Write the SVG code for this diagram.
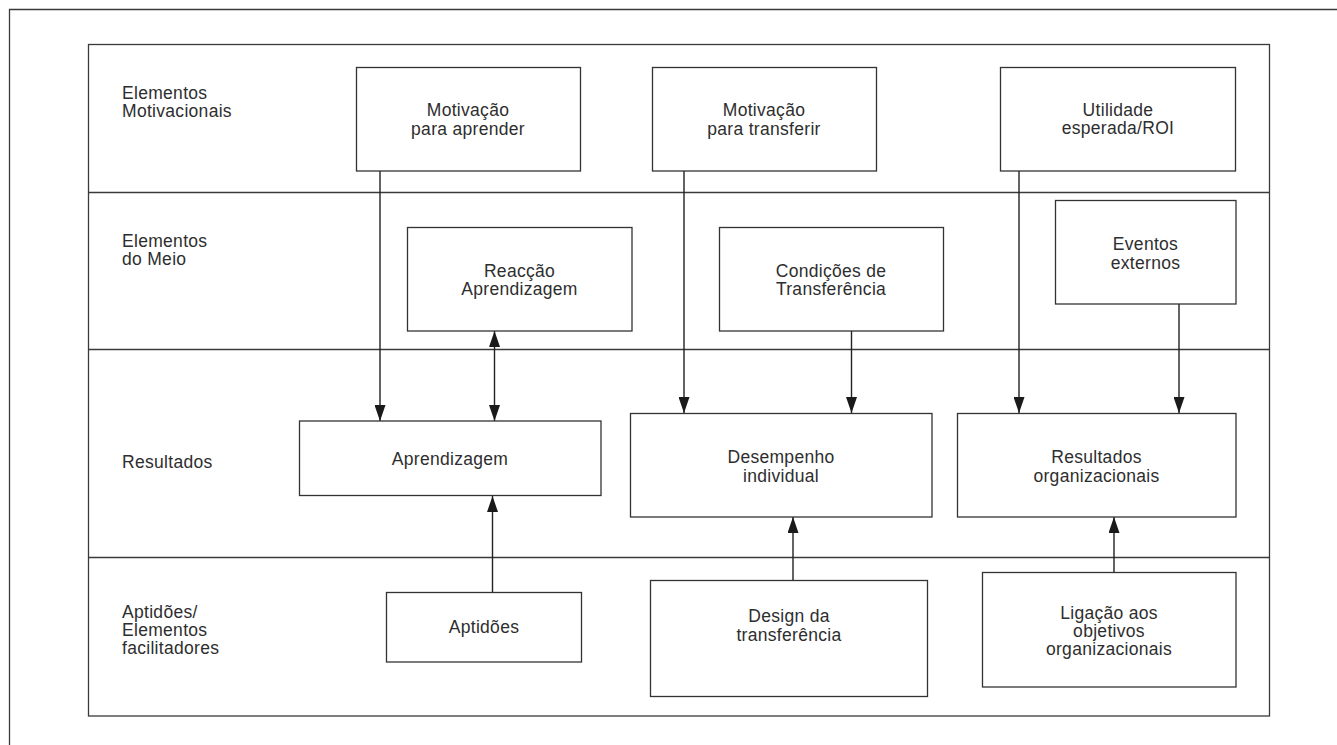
<svg xmlns="http://www.w3.org/2000/svg" width="1337" height="745" viewBox="0 0 1337 745">
<style>
.frame{fill:none;stroke:#3a3a3a;stroke-width:1.3}
.box{fill:#fff;stroke:#333;stroke-width:1.3}
.t{font-family:"Liberation Sans",Arial,sans-serif;font-size:17.5px;letter-spacing:0.3px;fill:#2e2e2e}
.c{text-anchor:middle}
.con{fill:none;stroke:#222;stroke-width:1.4}
</style>
<defs>
<marker id="a" viewBox="0 0 16 11" refX="16" refY="5.5" markerWidth="16" markerHeight="11" markerUnits="userSpaceOnUse" orient="auto-start-reverse">
<path d="M0 0 L16 5.5 L0 11 Z" fill="#1a1a1a"/>
</marker>
</defs>
<rect width="1337" height="745" fill="#fff"/>
<g id="frame">
<path class="frame" d="M9.5 745 V9.5 H1337"/>
<rect class="frame" x="88.5" y="44.5" width="1181" height="671.5"/>
<line class="frame" x1="88.5" y1="192.5" x2="1269.5" y2="192.5"/>
<line class="frame" x1="88.5" y1="349.5" x2="1269.5" y2="349.5"/>
<line class="frame" x1="88.5" y1="557.5" x2="1269.5" y2="557.5"/>
</g>
<g id="row-labels">
<text class="t" x="122" y="99">Elementos</text>
<text class="t" x="122" y="117">Motivacionais</text>
<text class="t" x="122" y="247">Elementos</text>
<text class="t" x="122" y="265">do Meio</text>
<text class="t" x="122" y="468">Resultados</text>
<text class="t" x="122" y="618">Aptidões/</text>
<text class="t" x="122" y="636">Elementos</text>
<text class="t" x="122" y="654">facilitadores</text>
</g>
<g id="connectors">
<line class="con" x1="380" y1="171" x2="380" y2="421" marker-end="url(#a)"/>
<line class="con" x1="494.5" y1="331" x2="494.5" y2="421" marker-start="url(#a)" marker-end="url(#a)"/>
<line class="con" x1="684" y1="171" x2="684" y2="413" marker-end="url(#a)"/>
<line class="con" x1="851.5" y1="331" x2="851.5" y2="413" marker-end="url(#a)"/>
<line class="con" x1="1019" y1="171" x2="1019" y2="413" marker-end="url(#a)"/>
<line class="con" x1="1179" y1="304" x2="1179" y2="413" marker-end="url(#a)"/>
<line class="con" x1="492.5" y1="592" x2="492.5" y2="496" marker-end="url(#a)"/>
<line class="con" x1="793" y1="580" x2="793" y2="517" marker-end="url(#a)"/>
<line class="con" x1="1114" y1="572" x2="1114" y2="517" marker-end="url(#a)"/>
</g>
<g id="motivacao-aprender">
<rect class="box" x="356.5" y="67.5" width="224" height="103.5"/>
<text class="t c" x="468" y="116">Motivação</text>
<text class="t c" x="468" y="135">para aprender</text>
</g>
<g id="motivacao-transferir">
<rect class="box" x="652.5" y="67.5" width="224" height="103.5"/>
<text class="t c" x="764" y="116">Motivação</text>
<text class="t c" x="764" y="135">para transferir</text>
</g>
<g id="utilidade">
<rect class="box" x="1000.5" y="67.5" width="235" height="103.5"/>
<text class="t c" x="1118" y="116">Utilidade</text>
<text class="t c" x="1118" y="134">esperada/ROI</text>
</g>
<g id="reaccao">
<rect class="box" x="407.5" y="227.5" width="224.5" height="103.5"/>
<text class="t c" x="519.5" y="277">Reacção</text>
<text class="t c" x="519.5" y="295">Aprendizagem</text>
</g>
<g id="condicoes">
<rect class="box" x="719.5" y="227.5" width="224" height="103.5"/>
<text class="t c" x="831" y="277">Condições de</text>
<text class="t c" x="831" y="295">Transferência</text>
</g>
<g id="eventos">
<rect class="box" x="1055.5" y="200.5" width="180.5" height="103.5"/>
<text class="t c" x="1145.5" y="250">Eventos</text>
<text class="t c" x="1145.5" y="269">externos</text>
</g>
<g id="aprendizagem">
<rect class="box" x="299.5" y="421" width="301.5" height="74.5"/>
<text class="t c" x="450" y="465">Aprendizagem</text>
</g>
<g id="desempenho">
<rect class="box" x="630.5" y="413.5" width="301.5" height="103.5"/>
<text class="t c" x="781" y="463">Desempenho</text>
<text class="t c" x="781" y="482">individual</text>
</g>
<g id="resultados-org">
<rect class="box" x="957.5" y="413.5" width="278.5" height="103.5"/>
<text class="t c" x="1096.5" y="463">Resultados</text>
<text class="t c" x="1096.5" y="482">organizacionais</text>
</g>
<g id="aptidoes">
<rect class="box" x="386.5" y="592.5" width="195" height="69.5"/>
<text class="t c" x="484" y="633">Aptidões</text>
</g>
<g id="design">
<rect class="box" x="650.5" y="580.5" width="277" height="116"/>
<text class="t c" x="789" y="622">Design da</text>
<text class="t c" x="789" y="641">transferência</text>
</g>
<g id="ligacao">
<rect class="box" x="982.5" y="572.5" width="253.5" height="114.5"/>
<text class="t c" x="1109" y="619">Ligação aos</text>
<text class="t c" x="1109" y="637">objetivos</text>
<text class="t c" x="1109" y="655">organizacionais</text>
</g>
</svg>
